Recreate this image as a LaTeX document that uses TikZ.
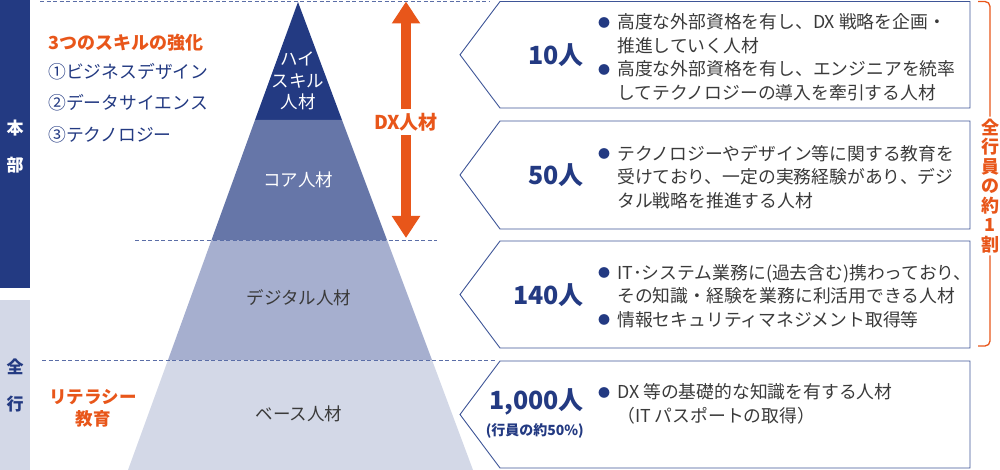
\documentclass[tikz,border=0pt]{standalone}
\usepackage{fontspec}
\setmainfont{Noto Sans CJK JP}
\usepackage{tikz}
\usetikzlibrary{arrows.meta}
\definecolor{navy}{HTML}{233A82}
\definecolor{core}{HTML}{6676A8}
\definecolor{digi}{HTML}{A6AFCF}
\definecolor{base}{HTML}{D3D8E7}
\definecolor{dxorange}{HTML}{E8561A}
\definecolor{boxblue}{HTML}{3E5597}
\definecolor{txtgray}{HTML}{3A3A3A}
\newcommand{\bul}{\makebox[19pt][l]{\raisebox{1.5pt}{\textcolor{navy}{\fontsize{12}{12}\selectfont ●}}}}
\newcommand{\ind}{\makebox[19pt][l]{}}

\begin{document}
\begin{tikzpicture}[x=1pt,y=-1pt,
    sep/.style={draw=boxblue!85, dash pattern=on 4pt off 2.5pt, line width=0.9pt},
    chev/.style={draw=boxblue, line width=0.9pt},
    lvl/.style={font=\fontsize{17.5}{20}\selectfont, text=txtgray},
    lvlw/.style={lvl, text=white, align=center, font=\fontsize{17.5}{21.5}\selectfont},
    desc/.style={anchor=west, inner sep=0pt, align=left, text=txtgray, font=\fontsize{17.8}{23.5}\selectfont},
    num/.style={anchor=east, inner sep=0pt, text=navy, font=\bfseries\fontsize{25}{27}\selectfont},
    skill/.style={anchor=west, inner sep=0pt, text=navy, font=\fontsize{17.8}{20}\selectfont},
    side/.style={font=\bfseries\fontsize{17}{19}\selectfont},
    dxarrow/.style={dxorange, line width=10pt, -{Triangle[width=27pt,length=22pt]}},
    bracket/.style={draw=dxorange, line width=1.3pt, rounded corners=5pt}]
    \useasboundingbox (0,0) rectangle (1000,470);

    \fill[navy] (0,0) rectangle (30,288);
    \fill[base] (0,300) rectangle (30,470);

    \fill[navy] (298,2) -- (342,120) -- (255,120) -- cycle;
    \fill[core] (255,120) -- (342,120) -- (387,240) -- (211.5,240) -- cycle;
    \fill[digi] (211.5,240) -- (387,240) -- (432,360) -- (168,360) -- cycle;
    \fill[base] (168,360) -- (432,360) -- (473,470) -- (128,470) -- cycle;

    \draw[sep] (40,1) -- (490,1);
    \draw[sep] (135,240) -- (437,240);
    \draw[sep] (42,360) -- (495,360);

    \foreach \t/\b in {1.5/108,121/229,241/348,361/468}
        \draw[chev] (500,\t) -- (970,\t) -- (970,\b) -- (500,\b) -- (460,{(\t+\b)/2}) -- cycle;

    \node[side, text=white] (hon) at (15,128) {本};
    \node[side, text=white] (bu) at (15,165) {部};
    \node[side, text=navy] (zen) at (15,367) {全};
    \node[side, text=navy] (gyo) at (15,404) {行};

    \node[skill, text=dxorange, font=\bfseries\fontsize{18}{20}\selectfont] (skillhead) at (48,43) {3つのスキルの強化};
    \node[skill] (skill1) at (48,72) {①ビジネスデザイン};
    \node[skill] (skill2) at (48,103) {②データサイエンス};
    \node[skill] (skill3) at (48,135) {③テクノロジー};
    \node[align=center, text=dxorange, font=\bfseries\fontsize{17.5}{22}\selectfont] (literacy) at (93,408) {リテラシー\\教育};

    \node[lvlw] (high) at (298,81) {ハイ\\スキル\\人材};
    \node[lvlw] (corel) at (298,180) {コア人材};
    \node[lvl] (digil) at (299,298) {デジタル人材};
    \node[lvl] (basel) at (299,414) {ベース人材};

    \coordinate (dxtop) at (406,1.5);
    \coordinate (dxbot) at (406,238);
    \node[text=dxorange, font=\bfseries\fontsize{19}{21}\selectfont, inner sep=4pt] (dx) at (406,122) {DX人材};
    \draw[dxarrow] (dx.north) -- (dxtop);
    \draw[dxarrow] (dx.south) -- (dxbot);

    \node[num] (n1) at (584,55) {10人};
    \node[num] (n2) at (584,175) {50人};
    \node[num] (n3) at (584,295) {140人};
    \node[num] (n4) at (584,402) {1,000人};
    \node[anchor=east, inner sep=0pt, text=navy, font=\bfseries\fontsize{14}{16}\selectfont] (n4sub) at (584,431) {(行員の約50\%)};

    \node[desc] (d1) at (598,57) {\bul 高度な外部資格を有し、DX 戦略を企画・\\
        \ind 推進していく人材\\
        \bul 高度な外部資格を有し、エンジニアを統率\\
        \ind してテクノロジーの導入を牽引する人材};
    \node[desc] (d2) at (598,177) {\bul テクノロジーやデザイン等に関する教育を\\
        \ind 受けており、一定の実務経験があり、デジ\\
        \ind タル戦略を推進する人材};
    \node[desc] (d3) at (598,296) {\bul IT･システム業務に(過去含む)携わっており、\\
        \ind その知識・経験を業務に利活用できる人材\\
        \bul 情報セキュリティマネジメント取得等};
    \node[desc] (d4) at (598,404) {\bul DX 等の基礎的な知識を有する人材\\
        \ind （IT パスポートの取得）};

    \node[align=center, text=dxorange, inner sep=2pt, font=\bfseries\fontsize{18}{19.5}\selectfont] (ratio) at (990,186) {全\\行\\員\\の\\約\\1\\割};
    \draw[bracket] (978,1.5) -| (ratio.north);
    \draw[bracket] (ratio.south) |- (978,346);
\end{tikzpicture}
\end{document}
